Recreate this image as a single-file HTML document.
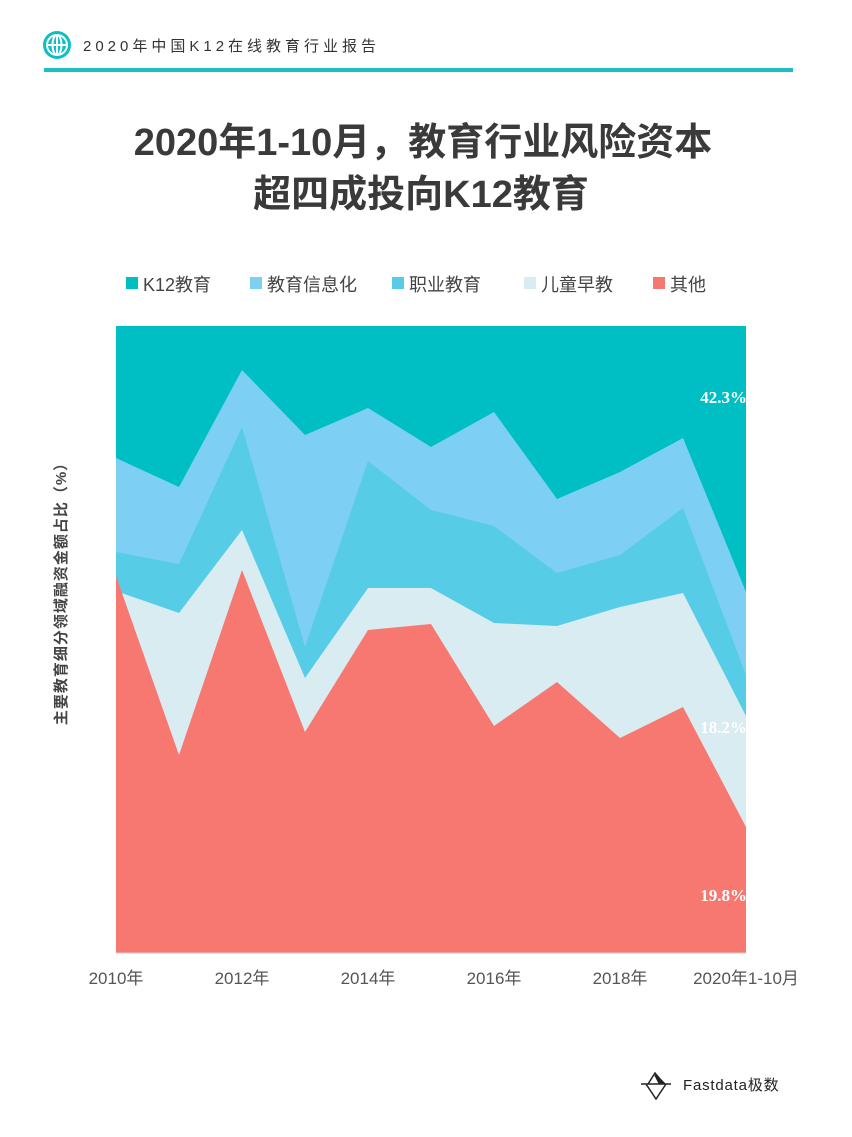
<!DOCTYPE html>
<html><head><meta charset="utf-8"><style>
body{margin:0;background:#fff;width:852px;height:1137px;overflow:hidden;font-family:"Liberation Sans","Noto Sans CJK SC",sans-serif}
</style></head><body>
<svg width="852" height="1137" xmlns="http://www.w3.org/2000/svg" style="position:absolute;left:0;top:0">
<circle cx="57" cy="45" r="14" fill="#0bbfc5"/>
<g stroke="#fff" stroke-width="2" fill="none"><circle cx="57" cy="45" r="10"/><ellipse cx="57" cy="45" rx="4.5" ry="10"/><line x1="47" y1="45" x2="67" y2="45"/><line x1="57" y1="35" x2="57" y2="55"/></g>
<text x="83" y="51" font-size="15" fill="#333" letter-spacing="4" font-family="Liberation Sans,Noto Sans CJK SC,sans-serif">2020年中国K12在线教育行业报告</text>
<rect x="44" y="68" width="749" height="4" fill="#1dbfc3"/>
<text x="423" y="155" font-size="38" font-weight="bold" fill="#3a3a3a" text-anchor="middle">2020年1-10月，教育行业风险资本</text>
<text x="421" y="207" font-size="38" font-weight="bold" fill="#3a3a3a" text-anchor="middle">超四成投向K12教育</text>
<g font-size="18" fill="#444">
<rect x="126" y="277" width="12" height="12" fill="#00bfc4"/><text x="143" y="291">K12教育</text>
<rect x="250" y="277" width="12" height="12" fill="#7dd0f4"/><text x="267" y="291">教育信息化</text>
<rect x="392" y="277" width="12" height="12" fill="#56cce6"/><text x="409" y="291">职业教育</text>
<rect x="524" y="277" width="12" height="12" fill="#d9ecf1"/><text x="541" y="291">儿童早教</text>
<rect x="653" y="277" width="12" height="12" fill="#f77870"/><text x="670" y="291">其他</text>
</g>
<rect x="116" y="326" width="630" height="627" fill="#00bfc4"/>
<polygon fill="#7dd0f4" points="116,458 179,487 242,370 305,435 368,408 431,447 494,412 557,499 620,472 683,438 746,592 746,953 116,953"/>
<polygon fill="#56cce6" points="116,552 179,564 242,427 305,647 368,461 431,510 494,526 557,573 620,555 683,508 746,675 746,953 116,953"/>
<polygon fill="#d9ecf1" points="116,591 179,613 242,530 305,678 368,588 431,588 494,623 557,626 620,607 683,593 746,716 746,953 116,953"/>
<polygon fill="#f77870" points="116,576 179,755 242,570 305,732 368,630 431,624 494,726 557,682 620,738 683,707 746,827 746,953 116,953"/>
<g fill="#fff" font-family="Liberation Serif,serif" font-size="17" font-weight="bold" text-anchor="end">
<text x="747" y="403">42.3%</text><text x="747" y="733">18.2%</text><text x="747" y="901">19.8%</text></g>
<line x1="116" y1="953" x2="746" y2="953" stroke="#ccc"/>
<g fill="#555" font-size="17" text-anchor="middle">
<text x="116" y="984">2010年</text><text x="242" y="984">2012年</text><text x="368" y="984">2014年</text><text x="494" y="984">2016年</text><text x="620" y="984">2018年</text><text x="746" y="984">2020年1-10月</text></g>
<text transform="translate(66,590) rotate(-90)" font-size="15" font-weight="bold" fill="#444" text-anchor="middle" letter-spacing="1">主要教育细分领域融资金额占比（%）</text>
<g transform="translate(641,1071)" fill="none" stroke="#222" stroke-width="1.5"><path d="M0,13 L30,13 M5,13 L15,28 L25,13 M7,13 L14,2 L19,8 L24,13"/><path d="M14,4 L18,12 L22,12 Z" fill="#222"/></g>
<text x="683" y="1090" font-size="15" fill="#222" letter-spacing="0.8">Fastdata极数</text>
</svg>
</body></html>
